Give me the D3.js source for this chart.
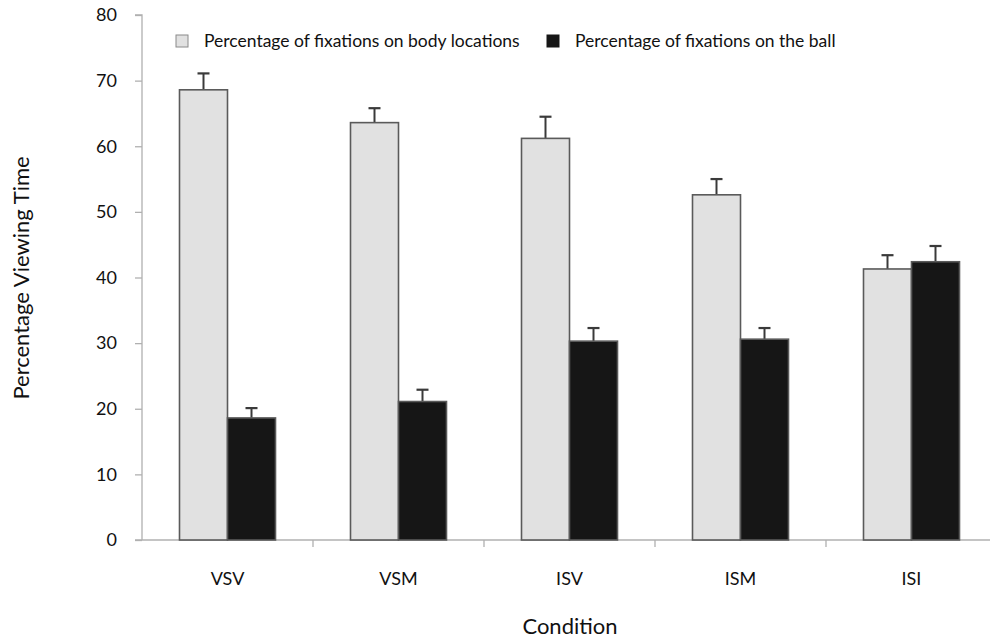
<!DOCTYPE html>
<html>
<head>
<meta charset="utf-8">
<script src="https://cdn.jsdelivr.net/npm/d3@7/dist/d3.min.js"></script>
<style>
  html, body { margin: 0; padding: 0; background: #fff; }
  svg { display: block; font-family: Lato, "Open Sans", sans-serif; }
</style>
</head>
<body>
<svg id="chart" width="990" height="640"></svg>
<script>
// Conditions along the x axis
const conditions = ["VSV", "VSM", "ISV", "ISM", "ISI"];
// Series names (legend)
const seriesNames = ["Percentage of fixations on body locations", "Percentage of fixations on the ball"];
// Mean percentage viewing time per condition
const bodyValues = [68.6, 63.6, 61.2, 52.6, 41.3];
const ballValues = [18.6, 21.1, 30.3, 30.6, 42.4];
// Upper end of each error bar
const bodyErrTop = [71.1, 65.8, 64.5, 55.0, 43.4];
const ballErrTop = [20.1, 22.9, 32.3, 32.3, 44.8];
// Y axis ticks
const yTicks = [0, 10, 20, 30, 40, 50, 60, 70, 80];

const svg = d3.select("#chart");
const fills = ["#e1e1e1", "#161616"];

const x = d3.scaleBand().domain(conditions).range([142, 997]);
const y = d3.scaleLinear().domain([0, 80]).range([540, 15]);
const barW = 48;

// Y axis
const yAxis = svg.append("g").attr("transform", "translate(142,0)")
  .call(d3.axisLeft(y).tickValues(yTicks).tickSize(7).tickPadding(18));
yAxis.select(".domain").attr("stroke", "#b0b0b0").attr("stroke-width", 1.3)
  .attr("d", `M-7,${y(80)}H0V${y(0)}`);
yAxis.selectAll(".tick line").attr("stroke", "#b0b0b0").attr("stroke-width", 1.3);
yAxis.selectAll(".tick text").attr("font-size", 18).attr("fill", "#111")
  .attr("font-family", "Lato, 'Open Sans', sans-serif");

// X axis: line from just left of the y axis, ticks at band boundaries
const xg = svg.append("g");
xg.append("line").attr("x1", 135).attr("x2", 997).attr("y1", y(0)).attr("y2", y(0))
  .attr("stroke", "#b0b0b0").attr("stroke-width", 1.3);
conditions.slice(1).forEach(c => {
  xg.append("line").attr("x1", x(c)).attr("x2", x(c)).attr("y1", y(0)).attr("y2", y(0) + 7)
    .attr("stroke", "#b0b0b0").attr("stroke-width", 1.3);
});
xg.selectAll("text.cat").data(conditions).join("text").attr("class", "cat")
  .attr("x", d => x(d) + x.bandwidth() / 2).attr("y", 585)
  .attr("text-anchor", "middle").attr("font-size", 18).attr("fill", "#111").text(d => d);

// Bars and error bars
const series = [
  { vals: bodyValues, err: bodyErrTop, off: -barW },
  { vals: ballValues, err: ballErrTop, off: 0 }
];
series.forEach((s, si) => {
  const g = svg.append("g");
  conditions.forEach((c, i) => {
    const cx = x(c) + x.bandwidth() / 2 + s.off;
    // error bar (upper only)
    g.append("line").attr("x1", cx + barW / 2).attr("x2", cx + barW / 2)
      .attr("y1", y(s.vals[i])).attr("y2", y(s.err[i]))
      .attr("stroke", "#3a3a3a").attr("stroke-width", 2);
    g.append("line").attr("x1", cx + barW / 2 - 6).attr("x2", cx + barW / 2 + 6)
      .attr("y1", y(s.err[i])).attr("y2", y(s.err[i]))
      .attr("stroke", "#3a3a3a").attr("stroke-width", 2.2);
    g.append("rect").attr("x", cx).attr("y", y(s.vals[i]))
      .attr("width", barW).attr("height", y(0) - y(s.vals[i]))
      .attr("fill", fills[si]).attr("stroke", "#5a5a5a").attr("stroke-width", 1.6);
  });
});

// Legend
const legendX = [176, 547];
seriesNames.forEach((n, i) => {
  svg.append("rect").attr("x", legendX[i]).attr("y", 35).attr("width", 12).attr("height", 12)
    .attr("fill", fills[i]).attr("stroke", i === 0 ? "#8a8a8a" : "#161616").attr("stroke-width", 1);
  svg.append("text").attr("x", legendX[i] + 28).attr("y", 47)
    .attr("font-size", 17.5).attr("fill", "#111").text(n);
});

// Axis titles
svg.append("text").attr("transform", "translate(29,278) rotate(-90)")
  .attr("text-anchor", "middle").attr("font-size", 22).attr("fill", "#111")
  .text("Percentage Viewing Time");
svg.append("text").attr("x", 570).attr("y", 634).attr("text-anchor", "middle")
  .attr("font-size", 22).attr("fill", "#111").text("Condition");
</script>
</body>
</html>
